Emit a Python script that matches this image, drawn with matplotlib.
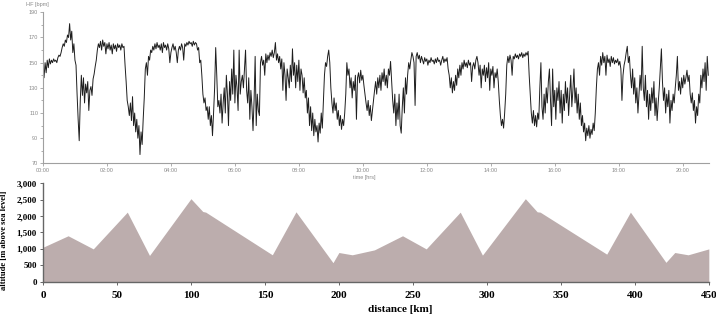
import numpy as np
import matplotlib
matplotlib.use("Agg")
import matplotlib.pyplot as plt
from matplotlib.ticker import FuncFormatter, MultipleLocator

# heart rate, one reading every 2 minutes
hr_step_min = 2
hr_bpm = [
    145, 138, 150, 142, 152, 146, 153, 149, 152, 150, 153, 151, 152, 150, 154, 156, 155, 158, 162, 165,
    163, 168, 166, 172, 170, 181, 168, 175, 158, 165, 152, 148, 125, 105, 88, 120, 140, 124, 138, 118,
    133, 126, 135, 112, 128, 131, 124, 137, 141, 147, 152, 160, 165, 162, 167, 160, 168, 163, 166, 157,
    165, 161, 166, 160, 164, 157, 165, 161, 164, 159, 165, 162, 164, 160, 165, 162, 163, 148, 135, 120,
    115, 108, 118, 104, 123, 100, 110, 95, 105, 90, 100, 77, 95, 85, 105, 122, 145, 150, 140, 155,
    152, 160, 158, 163, 160, 165, 161, 166, 162, 164, 160, 165, 158, 166, 162, 164, 160, 165, 161, 150,
    158, 162, 165, 160, 163, 158, 150, 160, 163, 160, 165, 162, 152, 165, 163, 166, 164, 167, 165, 166,
    163, 167, 164, 166, 165, 160, 162, 150, 152, 140, 125, 118, 122, 112, 115, 105, 115, 100, 108, 92,
    110, 130, 162, 140, 115, 120, 110, 125, 102, 118, 130, 110, 140, 125, 100, 135, 120, 145, 125, 160,
    118, 140, 130, 112, 160, 125, 135, 140, 130, 145, 160, 128, 118, 138, 105, 128, 115, 96, 120, 155,
    100, 125, 112, 108, 150, 155, 148, 152, 140, 157,
    # 420 min
    150, 156, 152, 158, 155, 160, 154, 158, 166, 152, 157, 150, 155, 145, 153, 128, 150, 140, 120, 145,
    138, 130, 148, 135, 161, 140, 150, 130, 148, 135, 152, 128, 145, 140, 126, 138, 122, 128, 110, 122,
    100, 115, 96, 110, 92, 105, 95, 100, 87, 102, 94, 110, 98, 120, 140, 150, 147, 155, 160, 150,
    130, 118, 110, 122, 112, 118, 105, 112, 100, 108, 97, 105, 100, 110, 125, 150, 140, 145, 130, 138,
    122, 135, 128, 140, 105, 138, 142, 134, 144, 136, 140, 132, 125, 118, 112, 120, 108, 116, 104, 112,
    120, 128, 135, 125, 138, 130, 140, 128, 142, 135, 145, 132, 140, 130, 145, 140, 151, 135, 120, 110,
    125, 100, 118, 105, 125, 100, 94, 115, 130, 110, 138, 125, 140, 150, 145, 152, 158, 155, 150, 116,
    155, 158, 153, 156, 150, 155, 152, 149, 154, 151, 153, 148, 152, 150, 154, 151, 152, 149, 153, 150,
    154, 151, 152, 148, 152, 155, 150, 153, 151, 154, 145, 140, 130, 138, 126, 135, 128, 140, 132, 145,
    138, 148, 140, 150, 145, 152, 147, 150, 146, 152, 148, 150, 135, 147, 150, 145, 152, 155, 150, 140,
    148, 130, 145, 140, 148, 135, 146, 138, 150, 128, 145, 140, 147, 130, 142, 138, 145, 135, 120, 108,
    100, 105, 98, 110, 125, 148, 155, 150, 156, 152, 140, 155, 153, 157, 154, 156, 153, 157, 155, 158,
    154, 157, 155, 158, 156, 159, 140, 125, 110, 102, 112, 100, 108, 99, 110, 105, 130, 150, 115, 105,
    125, 110, 130, 118, 135, 145, 120, 100, 145, 115, 128, 105, 130, 120, 135, 110, 128, 102, 125, 112,
    135, 118, 130, 108, 125, 140, 115, 128, 145, 118, 130, 110, 125, 105, 118, 100, 108, 95, 102, 88,
    98, 92, 100, 90, 97, 93, 102, 96, 110, 130, 145, 150, 140, 155, 148, 158, 150, 155, 140, 156,
    150, 153, 147, 155, 150, 154, 149, 152, 150, 153, 148, 151, 145, 120, 140, 148, 152, 158, 163, 150,
    155, 140, 130, 145, 125, 138, 118, 130, 110, 125, 140, 128, 163, 130, 120, 140, 115, 128, 105, 125,
    112, 130, 118, 135, 108, 122, 104, 118, 130, 145, 161, 135, 120, 130, 110, 125, 115, 128, 102, 120,
    112, 125, 118, 130, 140, 155, 128, 135, 125, 138, 130, 140, 133, 138, 144, 135, 140, 125, 118, 126,
    112, 120, 102, 115, 108, 125, 118, 140, 130, 145, 135, 150, 128, 155, 140,
]
hr_time_min = np.arange(len(hr_bpm)) * hr_step_min
time_ticks_min = [0, 120, 240, 360, 480, 600, 720, 840, 960, 1080, 1200]
hr_ticks = [70, 90, 110, 130, 150, 170, 190]

# altitude profile vertices
dist_km = [0, 17, 34, 57, 72, 100, 108, 110, 155, 171, 196, 200, 209, 224, 243, 259, 282, 297,
           326, 334, 336, 381, 397, 421, 427, 436, 450]
alt_m = [1050, 1400, 1000, 2120, 800, 2530, 2140, 2120, 820, 2130, 580, 890, 820, 970, 1400, 1000,
         2120, 810, 2530, 2130, 2120, 840, 2120, 590, 890, 820, 1000]

fig = plt.figure(figsize=(7.16, 3.16), dpi=100)
sans = "Liberation Sans"
serif = "Liberation Serif"
grey = "#8a8a8a"

# ---- heart rate panel
ax1 = fig.add_axes([0.060, 0.483, 0.930, 0.478])
ax1.plot(hr_time_min, hr_bpm, color="#1e1e1e", lw=0.7)
ax1.set_xlim(0, 1249)
ax1.set_ylim(70, 190)
ax1.set_xticks(time_ticks_min)
ax1.set_xticklabels([f"{t // 60:02d}:00" for t in time_ticks_min])
ax1.set_yticks(hr_ticks)
ax1.yaxis.set_minor_locator(MultipleLocator(10))
for s in ["top", "right"]:
    ax1.spines[s].set_visible(False)
for s in ["left", "bottom"]:
    ax1.spines[s].set_color("#a0a0a0")
    ax1.spines[s].set_linewidth(0.8)
ax1.tick_params(axis="both", which="both", colors="#a0a0a0", labelcolor=grey,
                labelsize=4, length=2, width=0.6, pad=1.5)
ax1.tick_params(axis="y", which="minor", length=1.5)
for lab in ax1.get_xticklabels() + ax1.get_yticklabels():
    lab.set_fontfamily(sans)
ax1.text(0.483, -0.096, "time [hrs]", transform=ax1.transAxes, ha="center", va="center",
         fontsize=4, color=grey, family=sans)
fig.text(0.052, 0.993, "HF [bpm]", ha="center", va="top", fontsize=4, color=grey, family=sans)

# ---- altitude panel
ax2 = fig.add_axes([0.060, 0.1085, 0.930, 0.3115])
ax2.fill_between(dist_km, alt_m, 0, color="#bcadad", lw=0)
ax2.set_xlim(0, 450)
ax2.set_ylim(0, 3000)
ax2.xaxis.set_major_locator(MultipleLocator(50))
ax2.yaxis.set_major_locator(MultipleLocator(500))
ax2.yaxis.set_major_formatter(FuncFormatter(lambda v, p: f"{int(v):,}"))
for s in ["top", "right"]:
    ax2.spines[s].set_visible(False)
for s in ["left", "bottom"]:
    ax2.spines[s].set_color("#666666")
    ax2.spines[s].set_linewidth(1.0)
ax2.tick_params(axis="both", colors="#666666", labelcolor="black", length=2.5, width=0.7)
ax2.tick_params(axis="x", labelsize=8, pad=4)
ax2.tick_params(axis="y", labelsize=6.5, pad=2)
for lab in ax2.get_xticklabels() + ax2.get_yticklabels():
    lab.set_fontfamily(serif)
    lab.set_fontweight("bold")
ax2.set_xlabel("distance [km]", family=serif, fontweight="bold", fontsize=8)
ax2.xaxis.set_label_coords(0.536, -0.24)
ax2.set_ylabel("altitude [m above sea level]", family=serif, fontweight="bold", fontsize=6.2)
ax2.yaxis.set_label_coords(-0.052, 0.42)

fig.savefig("out.png", dpi=100)
